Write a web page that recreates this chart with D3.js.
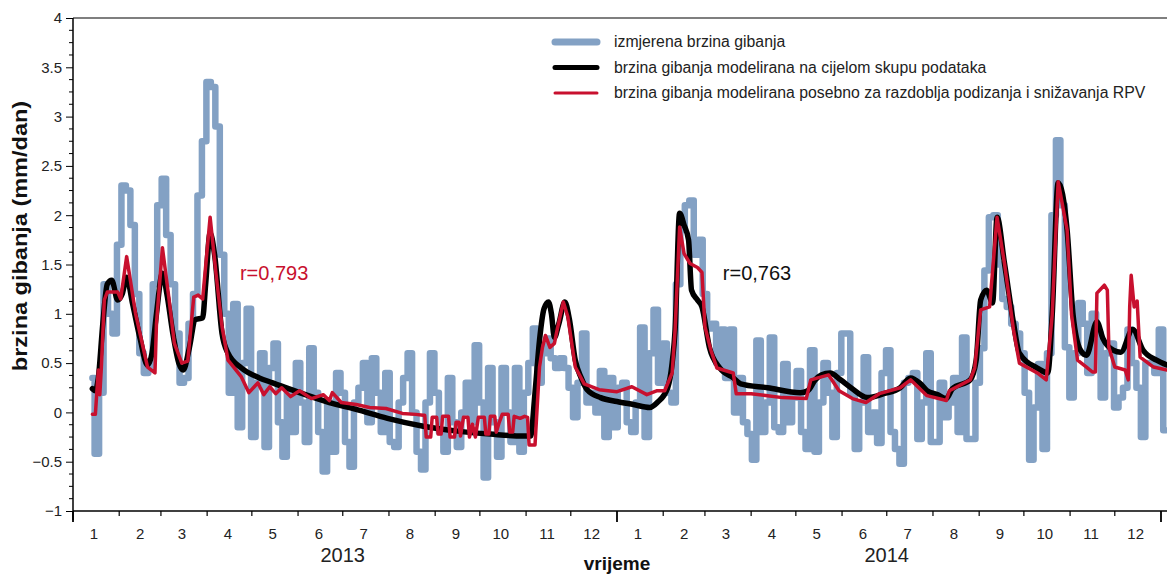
<!DOCTYPE html>
<html><head><meta charset="utf-8">
<script src="https://cdn.jsdelivr.net/npm/d3@7"></script>
<style>
body{margin:0;background:#fff}
text{font-family:"Liberation Sans",Arial,sans-serif}
</style>
</head><body>
<svg id="chart" width="1167" height="576"></svg>
<script>
// ---------- DATA ----------
// measured velocity, one value every 3 days starting at day 13 of 2013
const blueStartDay = 13;
const blueStepDays = 3;
const blueValues = [
 0.35,-0.42,0.2,1.3,1.0,0.8,1.7,2.3,2.25,1.9,
 1.2,0.6,0.4,0.45,1.3,2.1,2.37,1.8,1.3,0.8,
 0.3,0.35,0.9,1.2,2.2,2.75,3.35,3.3,2.9,1.6,
 1.0,0.2,1.1,-0.15,0.5,1.05,-0.25,0.3,0.6,-0.35,
 0.45,0.7,-0.1,-0.45,0.2,-0.2,0.5,0.1,-0.3,0.65,
 0.2,-0.2,-0.6,0.1,-0.4,0.4,0.2,-0.3,-0.55,0.1,
 0.25,0.5,-0.1,0.55,0.2,-0.2,0.4,-0.3,-0.35,0.1,
 0.35,0.6,0.0,-0.4,-0.58,0.1,0.6,0.2,-0.2,-0.4,
 0.35,-0.1,-0.35,0.0,0.3,-0.1,0.68,0.1,-0.66,0.45,
 -0.1,-0.45,0.45,0.0,-0.3,0.45,-0.4,0.2,0.5,0.85,
 0.3,0.6,0.75,0.55,0.45,0.55,0.45,0.25,-0.05,0.3,
 0.8,0.1,0.2,0.0,0.42,-0.25,0.35,-0.15,0.25,0.3,
 -0.1,-0.2,0.1,0.86,-0.25,0.6,1.04,0.3,0.7,0.2,
 0.1,1.3,1.85,2.1,2.15,1.6,1.75,1.2,0.85,0.9,
 0.5,0.84,0.35,0.84,0.0,0.35,-0.1,-0.22,-0.48,0.73,
 -0.2,0.1,0.76,-0.15,-0.2,0.49,-0.1,0.15,0.42,-0.2,
 -0.37,0.63,-0.4,0.1,0.5,0.2,-0.25,0.4,0.8,0.8,
 0.2,-0.37,0.1,0.56,-0.2,0.0,-0.31,0.4,0.63,-0.2,
 -0.37,-0.52,0.3,0.35,0.4,-0.27,0.1,0.6,-0.3,-0.3,
 0.3,-0.05,0.1,0.35,-0.2,0.76,-0.27,-0.27,0.3,0.65,
 1.44,1.98,2.0,1.5,1.15,1.07,0.9,0.8,0.6,0.2,
 -0.48,0.05,0.49,-0.37,0.6,2.0,2.76,2.1,0.66,0.15,
 0.6,1.11,0.9,0.4,1.0,0.8,0.15,0.6,0.7,0.05,
 0.15,0.25,0.84,0.5,0.25,-0.25,0.5,0.5,0.4,0.84,
 -0.18
];

// model on whole dataset (day since 2013-01-01, value)
const blackDays = [13,15,17,20,23,26,30,33,36,40,45,50,53,56,60,63,67,71,74,78,82,87,89,92,95,100,104,113,125,134,152,172,190,211,235,258,280,302,307,310,313,316,319,321,323,326,330,333,337,341,345,354,365,376,387,392,399,402,404,407,410,413,415,419,422,427,434,443,448,466,488,493,498,502,508,515,522,533,544,555,562,568,573,580,586,590,602,606,609,613,617,620,625,631,635,647,654,657,661,667,671,676,680,687,691,698,703,711,718,727,734];
const blackValues = [0.24,0.22,0.35,0.9,1.3,1.34,1.14,1.2,1.37,1.1,0.75,0.48,0.6,1.0,1.41,1.2,0.8,0.5,0.43,0.65,0.94,0.96,1.3,1.82,1.6,0.8,0.6,0.45,0.35,0.3,0.2,0.1,0.03,-0.06,-0.14,-0.19,-0.22,-0.24,-0.24,0.2,0.73,1.05,1.12,1.0,0.76,0.9,1.12,0.95,0.53,0.35,0.23,0.15,0.11,0.08,0.05,0.1,0.25,0.5,0.84,2.02,1.9,1.75,1.24,1.14,1.07,0.66,0.45,0.35,0.29,0.25,0.2,0.22,0.33,0.38,0.4,0.33,0.25,0.15,0.19,0.25,0.35,0.3,0.22,0.18,0.14,0.24,0.33,0.53,1.14,1.24,1.11,1.98,1.51,0.91,0.6,0.45,0.4,0.99,2.33,1.85,0.99,0.63,0.58,0.92,0.75,0.63,0.61,0.84,0.63,0.53,0.48];

// model separately for rising / falling periods
const redDays = [13,15,17,18,19,21,23,30,32,36,42,50,55,56,60,64,68,73,77,81,84,87,92,96,100,104,113,118,124,128,132,136,140,146,152,160,168,172,174,180,190,199,210,221,230,235,236,237,240,241,244,245,247,248,252,253,256,257,259,260,262,265,266,268,270,272,276,277,279,280,283,284,286,288,292,293,295,296,300,303,305,306,310,311,313,315,317,320,323,325,329,332,337,343,353,365,375,385,392,397,402,404,407,410,414,419,422,424,428,432,443,445,455,466,476,492,495,507,514,523,532,541,555,562,573,586,588,602,605,609,615,620,625,631,635,647,653,657,661,667,670,674,680,684,686,687,692,694,695,699,706,708,709,710,712,714,716,725,734];
const redValues = [-0.02,-0.02,0.43,0.18,0.45,1.14,1.22,1.22,1.15,1.58,1.0,0.46,0.4,0.9,1.67,1.2,0.7,0.5,0.52,1.17,1.19,1.15,1.98,1.4,0.87,0.53,0.36,0.2,0.3,0.18,0.26,0.19,0.25,0.16,0.22,0.14,0.18,0.12,0.2,0.1,0.08,0.05,0.04,-0.01,-0.02,-0.03,-0.03,-0.25,-0.25,-0.05,-0.05,-0.22,-0.22,-0.04,-0.04,-0.25,-0.25,-0.1,-0.1,-0.24,-0.05,-0.05,-0.25,-0.12,-0.25,-0.05,-0.05,-0.22,-0.22,-0.04,-0.04,-0.2,-0.1,-0.02,-0.02,-0.2,-0.2,-0.04,-0.06,-0.04,-0.05,-0.33,-0.33,-0.06,0.46,0.66,0.78,0.66,0.7,0.85,1.12,0.97,0.46,0.29,0.23,0.21,0.26,0.18,0.22,0.22,0.4,0.84,1.88,1.61,1.51,1.47,1.42,0.87,0.63,0.45,0.4,0.19,0.19,0.17,0.15,0.14,0.33,0.38,0.22,0.14,0.1,0.19,0.25,0.33,0.17,0.12,0.22,0.33,0.45,1.04,1.07,1.98,1.51,0.84,0.5,0.4,0.33,0.99,2.34,1.85,0.99,0.53,0.46,0.41,0.41,1.21,1.29,1.24,0.66,0.46,0.43,0.33,1.07,1.39,1.07,1.13,0.56,0.46,0.43];

const yTickValues = [-1,-0.5,0,0.5,1,1.5,2,2.5,3,3.5,4];
const monthLabels = ["1","2","3","4","5","6","7","8","9","10","11","12"];
const yearLabels = ["2013","2014"];
const legendLabels = [
  "izmjerena brzina gibanja",
  "brzina gibanja modelirana na cijelom skupu podataka",
  "brzina gibanja modelirana posebno za razdoblja podizanja i snižavanja RPV"
];
const corrLabels = ["r=0,793","r=0,763"];
const yTitle = "brzina gibanja (mm/dan)";
const xTitle = "vrijeme";

// ---------- CHART ----------
const svg = d3.select("#chart");
const W = 1167, H = 576;
const x0 = 73, x1 = 1161, yTop = 18, yBot = 511;
const t0 = new Date(2013,0,1), t1 = new Date(2015,0,1);
const x = d3.scaleTime().domain([t0,t1]).range([x0,x1]);
const y = d3.scaleLinear().domain([-1,4]).range([yBot,yTop]);
const dayToDate = d => d3.timeDay.offset(t0, d);

const colBlue = "#83a1c4", colBlack = "#000000", colRed = "#c8102e";

svg.append("defs").append("clipPath").attr("id","clip")
  .append("rect").attr("x",x0).attr("y",yTop).attr("width",W-x0).attr("height",yBot-yTop);

const blueData = blueValues.map((v,i)=>({d:dayToDate(blueStartDay+i*blueStepDays), v}));
const blackData = blackDays.map((d,i)=>({d:dayToDate(d), v:blackValues[i]}));
const redData = redDays.map((d,i)=>({d:dayToDate(d), v:redValues[i]}));

const g = svg.append("g").attr("clip-path","url(#clip)");
const lineStep = d3.line().x(p=>x(p.d)).y(p=>y(p.v)).curve(d3.curveStep);
const lineSmooth = d3.line().x(p=>x(p.d)).y(p=>y(p.v)).curve(d3.curveMonotoneX);
const lineLin = d3.line().x(p=>x(p.d)).y(p=>y(p.v));
g.append("path").datum(blueData).attr("d",lineStep).attr("fill","none")
  .attr("stroke",colBlue).attr("stroke-width",6.5).attr("stroke-linejoin","round").attr("stroke-linecap","round");
g.append("path").datum(blackData).attr("d",lineSmooth).attr("fill","none")
  .attr("stroke",colBlack).attr("stroke-width",5.5).attr("stroke-linejoin","round").attr("stroke-linecap","round");
g.append("path").datum(redData).attr("d",lineLin).attr("fill","none")
  .attr("stroke",colRed).attr("stroke-width",3.5).attr("stroke-linejoin","round").attr("stroke-linecap","round");

// frame lines
svg.append("line").attr("x1",x0).attr("x2",W).attr("y1",yTop).attr("y2",yTop).attr("stroke","#000").attr("stroke-width",1.2);
svg.append("line").attr("x1",x0).attr("x2",W).attr("y1",yBot).attr("y2",yBot).attr("stroke","#000").attr("stroke-width",1.5);
svg.append("line").attr("x1",x0).attr("x2",x0).attr("y1",yTop).attr("y2",yBot+9).attr("stroke","#000").attr("stroke-width",1.5);

// y axis
const yAxis = d3.axisLeft(y).tickValues(yTickValues).tickSize(7).tickPadding(4).tickFormat(d=>d3.format("")(d));
const ya = svg.append("g").attr("transform",`translate(${x0},0)`).call(yAxis);
ya.select(".domain").remove();
ya.selectAll("text").attr("font-size",15).attr("fill","#222").style("font-family","'Liberation Sans',Arial,sans-serif");
const minorY = d3.range(-1,4.0001,0.125).filter(v=>Math.abs(v*2-Math.round(v*2))>1e-6);
svg.append("g").selectAll("line").data(minorY).join("line")
  .attr("x1",x0-4).attr("x2",x0).attr("y1",d=>y(d)).attr("y2",d=>y(d)).attr("stroke","#000").attr("stroke-width",1);

// x axis: month ticks
const months = d3.timeMonth.range(t0, d3.timeDay.offset(t1,1));
svg.append("g").selectAll("line").data(months).join("line")
  .attr("x1",d=>x(d)).attr("x2",d=>x(d)).attr("y1",yBot)
  .attr("y2",d=>d.getMonth()===0 ? yBot+11 : yBot+5)
  .attr("stroke","#000").attr("stroke-width",d=>d.getMonth()===0?1.8:1.2);
const midMonths = d3.timeMonth.range(t0,t1).map(m=>d3.timeDay.offset(m,14));
svg.append("g").selectAll("text").data(midMonths).join("text")
  .attr("x",d=>x(d)).attr("y",yBot+28).attr("text-anchor","middle")
  .attr("font-size",15).attr("fill","#222").text(d=>monthLabels[d.getMonth()]);
// years
svg.append("g").selectAll("text").data(yearLabels).join("text")
  .attr("x",(d,i)=>x(new Date(2013+i,6,1))).attr("y",yBot+51).attr("text-anchor","middle")
  .attr("font-size",20).attr("fill","#222").text(d=>d);
// x title
svg.append("text").attr("x",x(t0)+(x(t1)-x(t0))/2).attr("y",570).attr("text-anchor","middle")
  .attr("font-size",19).attr("font-weight","bold").attr("fill","#111").text(xTitle);
// y title
svg.append("text").attr("transform",`translate(27,236) rotate(-90) scale(1.12,1)`).attr("text-anchor","middle")
  .attr("font-size",21).attr("font-weight","bold").attr("fill","#111").text(yTitle);

// correlation labels
svg.append("text").attr("x",x(dayToDate(112))).attr("y",y(1.34)).attr("font-size",20).attr("fill",colRed).text(corrLabels[0]);
svg.append("text").attr("x",x(dayToDate(436))).attr("y",y(1.34)).attr("font-size",20).attr("fill","#111").text(corrLabels[1]);

// legend
const legCols = [colBlue, colBlack, colRed];
const legW = [7,5,3];
const leg = svg.append("g");
legendLabels.forEach((t,i)=>{
  const yy = 42 + i*25.5;
  leg.append("line").attr("x1",555).attr("x2",597).attr("y1",yy).attr("y2",yy)
    .attr("stroke",legCols[i]).attr("stroke-width",legW[i]).attr("stroke-linecap","round");
  leg.append("text").attr("x",614).attr("y",yy+5).attr("font-size",15.8).attr("fill","#222").text(t);
});
</script>
</body></html>
